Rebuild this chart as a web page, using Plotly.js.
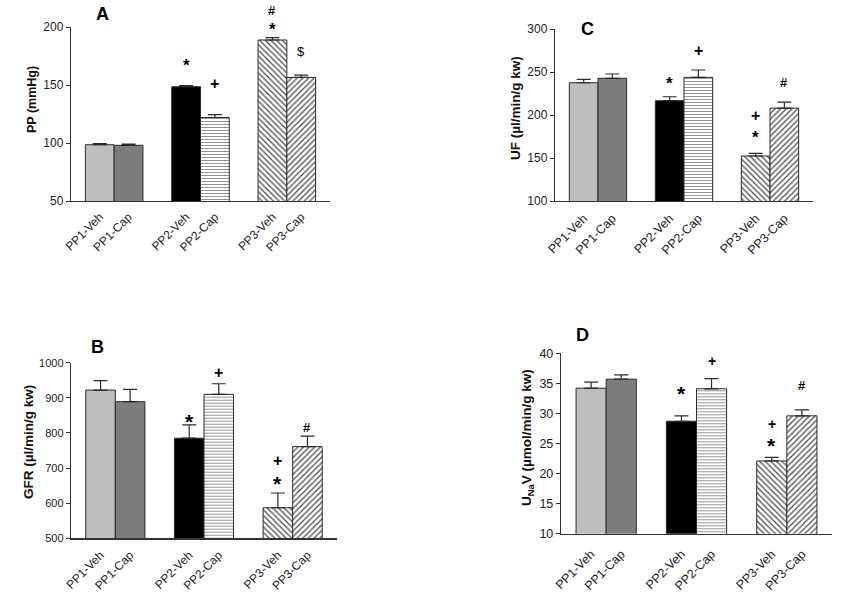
<!DOCTYPE html>
<html>
<head>
<meta charset="utf-8">
<script src="https://cdn.plot.ly/plotly-3.0.1.min.js"></script>
<style>html,body{margin:0;padding:0;background:#fff;}#chart{width:848px;height:597px;}</style>
</head>
<body>
<div id="chart"></div>
<script>
// ---- data ----
const groups = ['PP1-Veh', 'PP1-Cap', 'PP2-Veh', 'PP2-Cap', 'PP3-Veh', 'PP3-Cap'];
const categoryOrder = ['PP1-Veh', 'PP1-Cap', 'gap1', 'PP2-Veh', 'PP2-Cap', 'gap2', 'PP3-Veh', 'PP3-Cap'];

const ppMean = [98.5, 98, 148.5, 122, 188.8, 156.5];
const ppErr = [1, 1, 1, 2.5, 2, 2];
const ppSig = [[], [], ['*'], ['+'], ['*', '#'], ['$']];

const ufMean = [237.5, 242.7, 216.6, 243.8, 152.3, 208];
const ufErr = [4, 5, 4.6, 8.5, 3, 7];
const ufSig = [[], [], ['*'], ['+'], ['*', '+'], ['#']];

const gfrMean = [922, 889, 785, 910, 587, 761];
const gfrErr = [27, 35, 38, 30, 42, 30];
const gfrSig = [[], [], ['*'], ['+'], ['*', '+'], ['#']];

const unavMean = [34.2, 35.7, 28.7, 34.1, 22.1, 29.6];
const unavErr = [1, 0.7, 0.9, 1.7, 0.6, 1];
const unavSig = [[], [], ['*'], ['+'], ['*', '+'], ['#']];

// ---- styles ----
const FONT = 'Arial, "Liberation Sans", sans-serif';
const barColors = ['#bebebe', '#7d7d7d', '#000000', '#ffffff', '#ffffff', '#ffffff'];
const barShapes = ['', '', '', '-', '\\', '/'];
const patFg = ['#000', '#000', '#000', '#8a8a8a', '#4a4a4a', '#4a4a4a'];
const patSize = [8, 8, 8, 3, 4, 4];

// label offsets (px above error-bar top), one per significance label
const ppSigShift = [[], [], [20], [31], [8, 27], [24]];
const ufSigShift = [[], [], [13], [20], [16, 38], [20]];
const gfrSigShift = [[], [], [4], [11], [11, 33], [9]];
const unavSigShift = [[], [], [23], [18], [13, 33], [24]];

const panels = [
  {key: '', mean: ppMean, err: ppErr, sig: ppSig, shift: ppSigShift, title: 'PP (mmHg)', range: [50, 200], dtick: 50,
   xdom: [71/848, 330/848], ydom: [1 - 201/597, 1 - 27/597], tx: 32, ty: 100, titleSize: 12.5,
   tickSize: 12, xTickSize: 12, xPad: 3,
   letter: 'A', lx: 102, ly: 14, starSize: 17, plusSize: 16},
  {key: '2', mean: ufMean, err: ufErr, sig: ufSig, shift: ufSigShift, title: 'UF (\u00b5l/min/g kw)', range: [100, 300], dtick: 50,
   xdom: [555/848, 813/848], ydom: [1 - 201/597, 1 - 29/597], tx: 515, ty: 108, titleSize: 13.5,
   tickSize: 12, xTickSize: 12.5, xPad: 4,
   letter: 'C', lx: 587, ly: 29, starSize: 17, plusSize: 16},
  {key: '3', mean: gfrMean, err: gfrErr, sig: gfrSig, shift: gfrSigShift, title: 'GFR (\u00b5l/min/g kw)', range: [500, 1000], dtick: 100,
   xdom: [71/848, 337/848], ydom: [1 - 538.3/597, 1 - 362.7/597], tx: 28, ty: 442, titleSize: 13.5,
   tickSize: 11, xTickSize: 12, xPad: 4,
   letter: 'B', lx: 97, ly: 347, starSize: 21, plusSize: 16},
  {key: '4', mean: unavMean, err: unavErr, sig: unavSig, shift: unavSigShift, title: 'U<sub>Na</sub>V (\u00b5mol/min/g kw)', range: [10, 40], dtick: 5,
   xdom: [561/848, 832/848], ydom: [1 - 533.7/597, 1 - 353.3/597], tx: 527, ty: 438, titleSize: 13.5,
   tickSize: 12.5, xTickSize: 12.5, xPad: 7,
   letter: 'D', lx: 582, ly: 335, starSize: 21, plusSize: 14}
];

const data = [];
const layout = {
  width: 848, height: 597,
  margin: {l: 0, r: 0, t: 0, b: 0},
  paper_bgcolor: '#ffffff', plot_bgcolor: '#ffffff',
  showlegend: false,
  barmode: 'overlay',
  bargap: 0,
  font: {family: FONT, color: '#222'},
  annotations: []
};

panels.forEach(p => {
  const xa = 'x' + p.key, ya = 'y' + p.key;
  groups.forEach((g, i) => {
    data.push({
      type: 'bar',
      x: [g],
      y: [p.mean[i]],
      xaxis: xa, yaxis: ya,
      width: 1,
      marker: {
        color: barColors[i],
        line: {color: '#2a2a2a', width: 1},
        pattern: {shape: barShapes[i], fgcolor: patFg[i], bgcolor: barColors[i], size: patSize[i], solidity: 0.3, fillmode: 'replace'}
      },
      error_y: {type: 'data', symmetric: false, array: [p.err[i]], arrayminus: [0],
                color: '#2a2a2a', thickness: 1.2, width: 7},
      hoverinfo: 'skip'
    });
  });
  layout['xaxis' + p.key] = {
    domain: p.xdom, anchor: ya,
    type: 'category', categoryorder: 'array', categoryarray: categoryOrder,
    range: [-1, 8],
    tickmode: 'array', tickvals: groups, ticktext: groups,
    tickangle: -45, ticks: 'outside', ticklen: p.xPad, tickcolor: 'rgba(0,0,0,0)',
    showline: true, linecolor: '#333', linewidth: 1.2,
    showgrid: false, zeroline: false,
    tickfont: {family: FONT, size: p.xTickSize, color: '#222'}, fixedrange: true
  };
  layout['yaxis' + p.key] = {
    domain: p.ydom, anchor: xa,
    range: p.range, dtick: p.dtick, tick0: p.range[0],
    ticks: 'outside', ticklen: 4, tickwidth: 1, tickcolor: '#333',
    showline: true, linecolor: '#333', linewidth: 1.2,
    showgrid: false, zeroline: false,
    tickfont: {family: FONT, size: p.tickSize, color: '#222'},
    fixedrange: true
  };
  // axis title
  layout.annotations.push({
    xref: 'paper', yref: 'paper', x: p.tx / 848, y: 1 - p.ty / 597,
    xanchor: 'center', yanchor: 'middle', showarrow: false, textangle: -90,
    text: '<b>' + p.title + '</b>', font: {family: FONT, size: p.titleSize, color: '#111'}
  });
  // panel letter
  layout.annotations.push({
    xref: 'paper', yref: 'paper', x: p.lx / 848, y: 1 - p.ly / 597,
    xanchor: 'center', yanchor: 'middle', showarrow: false,
    text: '<b>' + p.letter + '</b>', font: {family: FONT, size: 18, color: '#000'}
  });
  // significance marks
  p.sig.forEach((labels, i) => {
    labels.forEach((lab, j) => {
      const size = lab === '*' ? p.starSize : (lab === '+' ? p.plusSize : 13);
      layout.annotations.push({
        xref: xa, yref: ya, x: groups[i], y: p.mean[i] + p.err[i],
        xanchor: 'center', yanchor: 'middle', showarrow: false,
        yshift: p.shift[i][j] + (lab === '*' ? -(size - 17) * 0.25 : 0),
        text: lab === '$' ? lab : '<b>' + lab + '</b>',
        font: {family: FONT, size: size, color: '#000'}
      });
    });
  });
});

Plotly.newPlot('chart', data, layout, {displayModeBar: false, staticPlot: true});
</script>
</body>
</html>
